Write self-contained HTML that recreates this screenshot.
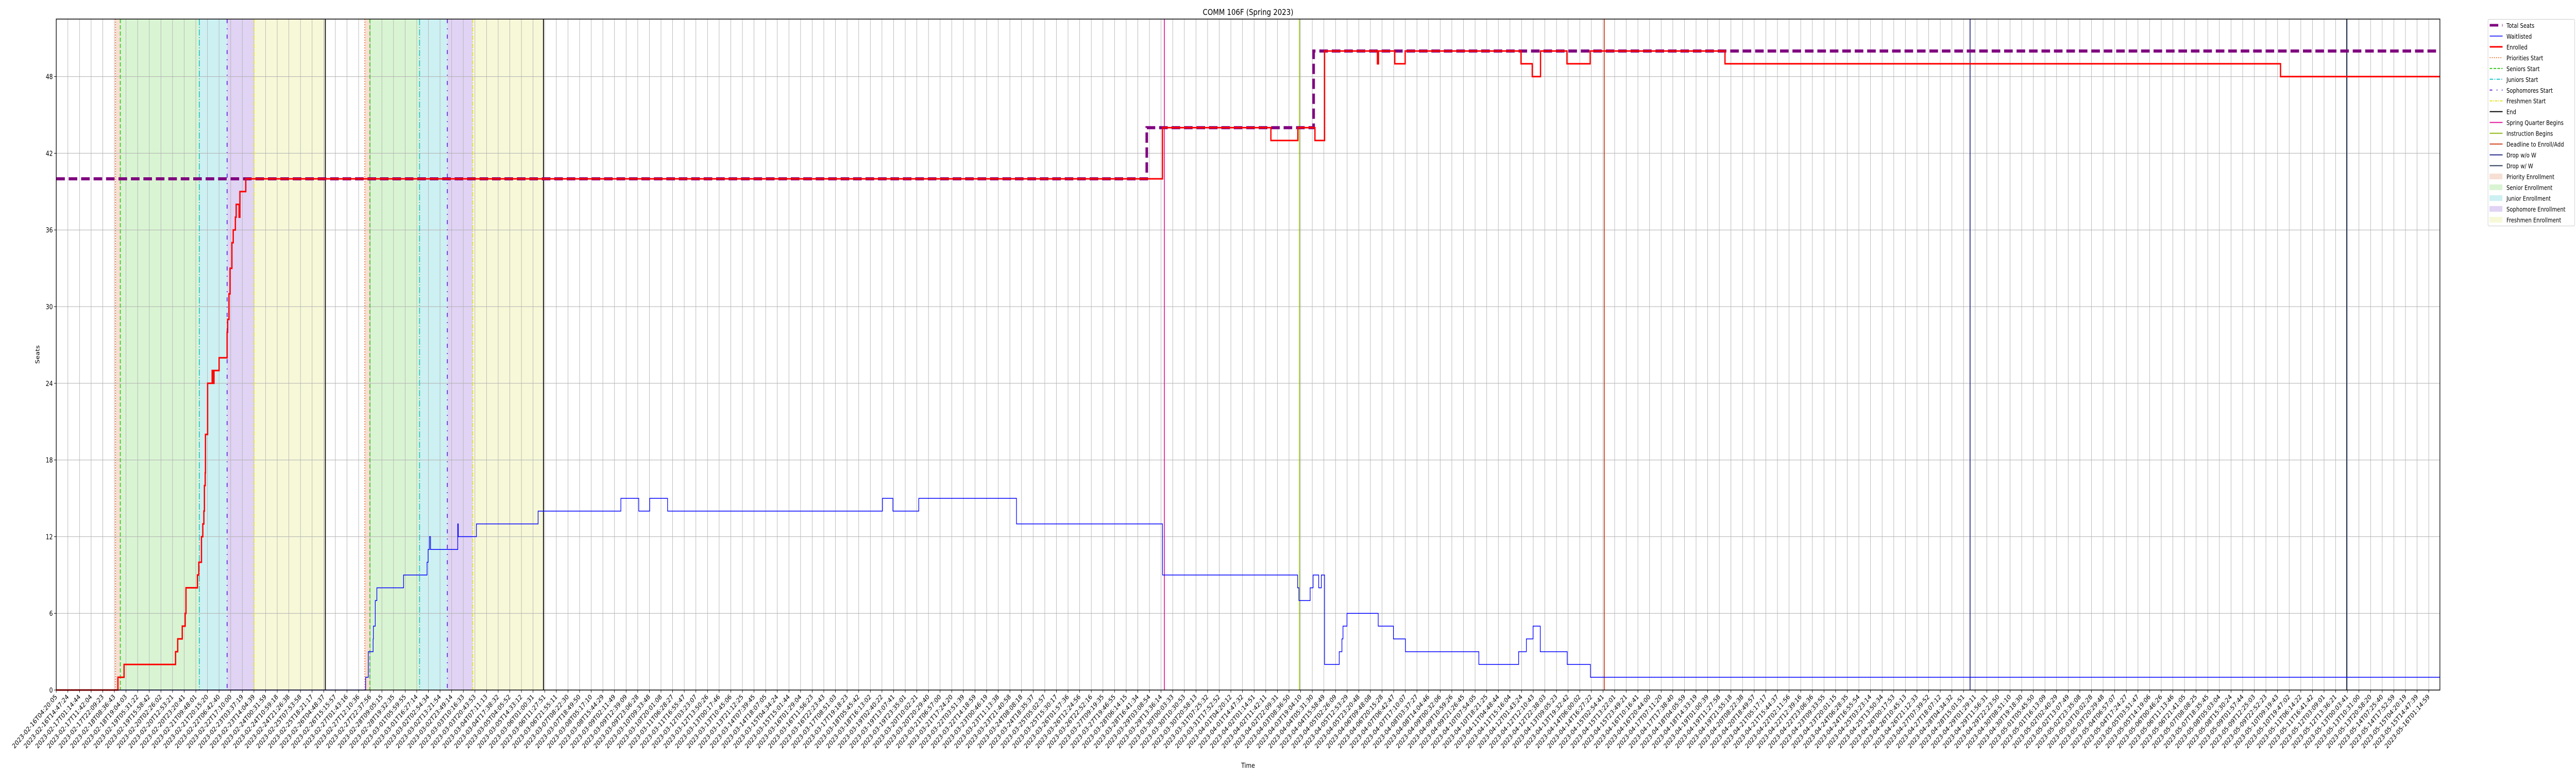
<!DOCTYPE html>
<html><head><meta charset="utf-8">
<style>
html,body{margin:0;padding:0;background:#fff;width:100%;height:100%;overflow:hidden;}
svg{display:block;width:100vw;height:100vh;font-family:"DejaVu Sans","Liberation Sans",sans-serif;}
</style></head>
<body>
<svg id="chart" xmlns="http://www.w3.org/2000/svg" viewBox="0 0 6000 1500" preserveAspectRatio="none" overflow="hidden">
<rect width="6000" height="1500" fill="#fff"/>
<g id="bands"></g>
<g id="grid"></g>
<g id="markers"></g>
<g id="series"></g>
<g id="axes"></g>
<g id="legend"></g>
</svg>
<script>
// ---- data (days since 2023-02-16T04:20:05) ----
const totalSeatsX = [0, 40.85, 47.10];
const totalSeatsY = [40, 44, 50];
const enrolledX = [0, 2.31, 2.54, 4.47, 4.55, 4.72, 4.83, 4.86, 5.29, 5.32, 5.34, 5.44, 5.49, 5.53, 5.55, 5.58, 5.59, 5.67, 5.84, 5.88, 5.91, 6.10, 6.40, 6.42, 6.47, 6.51, 6.58, 6.63, 6.71, 6.74, 6.85, 6.88, 7.10, 41.44, 45.50, 46.51, 47.15, 47.51, 49.49, 49.53, 50.14, 50.53, 54.87, 55.29, 55.60, 56.59, 57.46, 62.51, 83.32];
const enrolledY = [0, 1, 2, 3, 4, 5, 6, 8, 9, 9, 10, 12, 13, 14, 16, 17, 20, 24, 25, 24, 25, 26, 28, 29, 31, 33, 35, 36, 37, 38, 37, 39, 40, 44, 43, 44, 43, 50, 49, 50, 49, 50, 49, 48, 50, 49, 50, 49, 48];
const waitX = [0, 11.59, 11.69, 11.87, 11.88, 11.95, 12.01, 13.01, 13.89, 13.93, 13.98, 14.02, 15.04, 15.06, 15.74, 18.05, 21.15, 21.82, 22.23, 22.90, 30.95, 31.34, 32.31, 35.97, 41.44, 46.50, 46.55, 46.97, 47.08, 47.29, 47.39, 47.51, 48.06, 48.16, 48.20, 48.35, 49.52, 50.09, 50.54, 53.29, 54.78, 55.07, 55.32, 55.59, 56.60, 57.47];
const waitY = [0, 1, 3, 4, 5, 7, 8, 9, 10, 11, 12, 11, 13, 12, 13, 14, 15, 14, 15, 14, 15, 14, 15, 13, 9, 8, 7, 8, 9, 8, 9, 2, 3, 4, 5, 6, 5, 4, 3, 2, 3, 4, 5, 3, 2, 1];
const prioritiesStart = [2.22, 11.56];
const seniorsStart = [2.40, 11.75];
const juniorsStart = [5.36, 13.61];
const sophomoresStart = [6.40, 14.65];
const freshmenStart = [7.41, 15.60];
const endDates = [10.08, 18.25];
const springBegins = [41.51];
const instructionBegins = [46.57];
const deadlineEnroll = [57.99];
const dropNoW = [71.69];
const dropW = [85.80];
const yTicks = [0, 6, 12, 18, 24, 30, 36, 42, 48];
const tickCount = 205;
const startTime = "2023-02-16T04:20:05";
const endTime = "2023-05-16T01:14:59";

// ---- scales ----
const L = 131, R = 5683, T = 37, B = 1339;
const xMaxDay = 89.29;
const yMax = 52.5;
function xs(d){ return L + d * (R - L) / xMaxDay; }
function ys(v){ return B - v * (B - T) / yMax; }
const NS = "http://www.w3.org/2000/svg";
function el(tag, attrs, parent){ const e = document.createElementNS(NS, tag); for (const k in attrs) e.setAttribute(k, attrs[k]); parent.appendChild(e); return e; }
const gB = document.getElementById('bands'), gG = document.getElementById('grid'), gM = document.getElementById('markers'), gS = document.getElementById('series'), gA = document.getElementById('axes'), gL = document.getElementById('legend');

// ---- bands ----
const bandColors = ['#f7dfd3', '#d9f4d3', '#cdf0f2', '#e0d3f4', '#f7f8d8'];
const bandNames = ['priority-enrollment-band', 'senior-enrollment-band', 'junior-enrollment-band', 'sophomore-enrollment-band', 'freshmen-enrollment-band'];
for (let r = 0; r < 2; r++) {
  const edges = [prioritiesStart[r], seniorsStart[r], juniorsStart[r], sophomoresStart[r], freshmenStart[r], endDates[r]];
  for (let k = 0; k < 5; k++) {
    const rc = el('rect', {x: xs(edges[k]), y: T, width: xs(edges[k+1]) - xs(edges[k]), height: B - T, fill: bandColors[k]}, gB);
    
    
  }
}

// ---- grid & ticks ----
const t0 = Date.parse(startTime + "Z"), t1 = Date.parse(endTime + "Z");
const tickDays = (t1 - t0) / 86400000;
for (let i = 0; i < tickCount; i++) {
  const d = i * tickDays / (tickCount - 1);
  const x = xs(d);
  const gl = el('line', {x1: x, x2: x, y1: T, y2: B, stroke: '#b0b0b0', 'stroke-width': 1}, gG);
  
  
  const tk = el('line', {x1: x, x2: x, y1: B, y2: B + 5, stroke: '#000', 'stroke-width': 1}, gA);
  
  
  const lbl = new Date(t0 + d * 86400000).toISOString().slice(0, 19);
  const tx = el('text', {x: x + 3, y: B + 14, 'font-size': 13, 'text-anchor': 'end', transform: `rotate(-45 ${x + 3} ${B + 14})`}, gA);
  tx.textContent = lbl;
  
  
}
yTicks.forEach(v => {
  const y = ys(v);
  const gl = el('line', {x1: L, x2: R, y1: y, y2: y, stroke: '#b0b0b0', 'stroke-width': 1}, gG);
  
  
  const tk = el('line', {x1: L - 5, x2: L, y1: y, y2: y, stroke: '#000', 'stroke-width': 1}, gA);
  
  
  const tx = el('text', {x: L - 8, y: y + 5, 'font-size': 13, 'text-anchor': 'end'}, gA);
  tx.textContent = v;
  
  
});

// ---- vertical markers ----
function vlines(arr, color, dash, w, name) {
  arr.forEach(d => {
    const ln = el('line', {x1: xs(d), x2: xs(d), y1: T, y2: B, stroke: color, 'stroke-width': w, 'stroke-dasharray': dash}, gM);
    
    
  });
}
vlines(prioritiesStart, '#ee6f35', '2 3', 2, 'priorities-start-line');
vlines(seniorsStart, '#36c91a', '8 4', 2, 'seniors-start-line');
vlines(juniorsStart, '#1ec6d0', '12 3 2 3', 2, 'juniors-start-line');
vlines(sophomoresStart, '#6a25d6', '8 10 2 10', 2, 'sophomores-start-line');
vlines(freshmenStart, '#e2e22a', '8 3 2 3', 2, 'freshmen-start-line');
vlines(endDates, '#000000', 'none', 2, 'end-line');
vlines(springBegins, '#e0189c', 'none', 2, 'spring-quarter-begins-line');
vlines(instructionBegins, '#8fb80f', 'none', 2, 'instruction-begins-line');
vlines(deadlineEnroll, '#d2401c', 'none', 2, 'deadline-enroll-line');
vlines(dropNoW, '#2a2a8a', 'none', 2, 'drop-without-w-line');
vlines(dropW, '#2c3a5a', 'none', 2.5, 'drop-with-w-line');

// ---- step series ----
function stepPath(xsArr, ysArr) {
  let p = `M${xs(xsArr[0])},${ys(ysArr[0])}`;
  for (let i = 1; i < xsArr.length; i++) {
    p += `H${xs(xsArr[i])}V${ys(ysArr[i])}`;
  }
  p += `H${xs(xMaxDay)}`;
  return p;
}
const tsPath = el('path', {d: stepPath(totalSeatsX, totalSeatsY), fill: 'none', stroke: '#800080', 'stroke-width': 6, 'stroke-dasharray': '20 9'}, gS);


const wlPath = el('path', {d: stepPath(waitX, waitY), fill: 'none', stroke: '#0000ff', 'stroke-width': 1.5}, gS);


const enPath = el('path', {d: stepPath(enrolledX, enrolledY), fill: 'none', stroke: '#ff0000', 'stroke-width': 3}, gS);



// ---- frame, title, labels ----
const fr = el('rect', {x: L, y: T, width: R - L, height: B - T, fill: 'none', stroke: '#000', 'stroke-width': 1.5}, gA);


const title = el('text', {x: (L + R) / 2, y: 29, 'font-size': 16, 'text-anchor': 'middle'}, gA);
title.textContent = 'COMM 106F (Spring 2023)';


const yl = el('text', {x: 92, y: (T + B) / 2, 'font-size': 13, 'text-anchor': 'middle', transform: `rotate(-90 92 ${(T + B) / 2})`}, gA);
yl.textContent = 'Seats';


const xl = el('text', {x: (L + R) / 2, y: 1490, 'font-size': 13, 'text-anchor': 'middle'}, gA);
xl.textContent = 'Time';



// ---- legend ----
const lbox = el('rect', {x: 5795, y: 37.5, width: 202, height: 401, rx: 3, fill: '#fff', stroke: '#cccccc', 'stroke-width': 1}, gL);


const legendLabels = ['Total Seats', 'Waitlisted', 'Enrolled', 'Priorities Start', 'Seniors Start', 'Juniors Start', 'Sophomores Start', 'Freshmen Start', 'End', 'Spring Quarter Begins', 'Instruction Begins', 'Deadline to Enroll/Add', 'Drop w/o W', 'Drop w/ W', 'Priority Enrollment', 'Senior Enrollment', 'Junior Enrollment', 'Sophomore Enrollment', 'Freshmen Enrollment'];
const legendStyle = [
  ['#800080', 5, '20 9'], ['#0000ff', 1.5, 'none'], ['#ff0000', 3, 'none'], ['#ee6f35', 2, '2 3'], ['#36c91a', 2, '6 3'],
  ['#1ec6d0', 2, '8 3 2 3'], ['#6a25d6', 2, '6 10 2 10'], ['#e2e22a', 2, '6 2 2 2'], ['#000', 2, 'none'], ['#e0189c', 2, 'none'],
  ['#8fb80f', 2, 'none'], ['#d2401c', 2, 'none'], ['#2a2a8a', 2, 'none'], ['#2c3a5a', 2, 'none'],
  ['#f7dfd3'], ['#d9f4d3'], ['#cdf0f2'], ['#e0d3f4'], ['#f7f8d8']
];
legendLabels.forEach((lab, i) => {
  const cy = 49 + i * 20.96;
  const st = legendStyle[i];
  if (st.length === 1) {
    const sw = el('rect', {x: 5799, y: cy - 5, width: 29, height: 10, fill: st[0], stroke: st[0]}, gL);
    
    
  } else {
    const ln = el('line', {x1: 5799, x2: 5829, y1: cy, y2: cy, stroke: st[0], 'stroke-width': st[1], 'stroke-dasharray': st[2]}, gL);
    
    
  }
  const tx = el('text', {x: 5838, y: cy + 5, 'font-size': 12}, gL);
  tx.textContent = lab;
  
  
});
</script>
</body></html>
